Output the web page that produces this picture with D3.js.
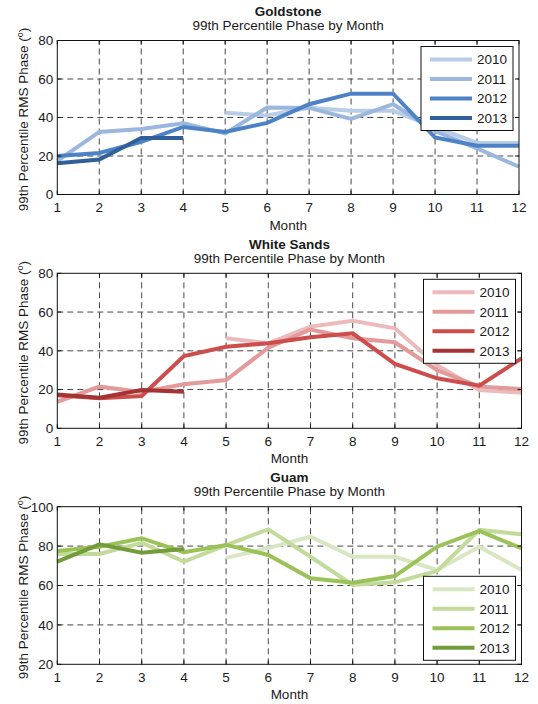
<!DOCTYPE html>
<html>
<head>
<meta charset="utf-8">
<script src="https://cdn.jsdelivr.net/npm/d3@7"></script>
<style>
  html, body { margin: 0; padding: 0; background: #fff; }
  svg { display: block; font-family: "Liberation Sans", Arial, Helvetica, sans-serif; }
</style>
</head>
<body>
<svg id="chart" width="538" height="704"></svg>
<script>
// Months on the x axis
const months = [1, 2, 3, 4, 5, 6, 7, 8, 9, 10, 11, 12];
const years = ["2010", "2011", "2012", "2013"];

// Goldstone, 99th percentile RMS phase (degrees) per month
const goldstone2010 = [null, null, null, null, 42.5, 41, 45, 43.5, 43.5, 35, 26.8, 26.8];
const goldstone2011 = [17.5, 32.5, 34, 37, 31.7, 45.2, 45, 39.3, 46.9, 33, 24, 14.4];
const goldstone2012 = [20, 21.6, 27.3, 35.1, 32.5, 37.2, 46.9, 52.4, 52.4, 29.6, 25.3, 25.3];
const goldstone2013 = [16.2, 18.2, 29.4, 29.4, null, null, null, null, null, null, null, null];

// White Sands
const whiteSands2010 = [null, null, null, null, 46.5, 43.9, 52.5, 55.5, 51.6, 32.5, 19.8, 18.4];
const whiteSands2011 = [13.7, 21.5, 18.8, 22.7, 24.9, 41.6, 51, 46.5, 44.4, 30, 21.5, 20.3];
const whiteSands2012 = [17, 15.5, 16.7, 37.3, 42.1, 43.9, 47, 49, 33.2, 25.8, 22, 36.1];
const whiteSands2013 = [17.5, 15.8, 19.8, 18.9, null, null, null, null, null, null, null, null];

// Guam
const guam2010 = [null, null, null, null, 74, 79, 84.8, 74.6, 74.6, 67.9, 79.7, 67.9];
const guam2011 = [76, 76, 81.7, 72.1, 80.5, 88.5, 74.6, 60.3, 61.6, 67.4, 88.2, 86];
const guam2012 = [77.5, 79.7, 84, 76.9, 80.6, 75.5, 63.7, 61.4, 64.8, 79.7, 87.7, 78.9];
const guam2013 = [72.1, 80.9, 76.6, 78.5, null, null, null, null, null, null, null, null];

// Y tick values per station
const ticks0to80 = [0, 20, 40, 60, 80];
const ticks20to100 = [20, 40, 60, 80, 100];

const colorsBlue = ["#b9cde7", "#9bb7de", "#4d83c6", "#2f6099"];
const colorsRed = ["#ecbaba", "#e29a9a", "#cd4c4c", "#a43434"];
const colorsGreen = ["#d8e7c2", "#c2db9a", "#9ac256", "#739c3b"];

const panels = [
  { title: "Goldstone", series: [goldstone2010, goldstone2011, goldstone2012, goldstone2013],
    colors: colorsBlue, yDomain: [0, 80], yTicks: ticks0to80,
    left: 57.3, right: 519, top: 40.5, bottom: 194.5, legendPos: "top" },
  { title: "White Sands", series: [whiteSands2010, whiteSands2011, whiteSands2012, whiteSands2013],
    colors: colorsRed, yDomain: [0, 80], yTicks: ticks0to80,
    left: 57.3, right: 521.5, top: 273.3, bottom: 428.3, legendPos: "top" },
  { title: "Guam", series: [guam2010, guam2011, guam2012, guam2013],
    colors: colorsGreen, yDomain: [20, 100], yTicks: ticks20to100,
    left: 57.3, right: 521.5, top: 506.7, bottom: 664.3, legendPos: "bottom" }
];

const svg = d3.select("#chart");
const FS = 13.5;
const textColor = "#1a1a1a";

panels.forEach(p => {
  const g = svg.append("g");
  const x = d3.scaleLinear().domain([1, 12]).range([p.left, p.right]);
  const y = d3.scaleLinear().domain(p.yDomain).range([p.bottom, p.top]);
  const cx = (p.left + p.right) / 2;

  // Titles
  g.append("text").attr("x", cx).attr("y", p.top - 24.5)
    .attr("text-anchor", "middle").attr("font-weight", "bold")
    .attr("font-size", FS).attr("fill", textColor).text(p.title);
  g.append("text").attr("x", cx).attr("y", p.top - 10.5)
    .attr("text-anchor", "middle")
    .attr("font-size", FS).attr("fill", textColor).text("99th Percentile Phase by Month");

  // Dashed grid
  const grid = g.append("g").attr("stroke", "#333").attr("stroke-width", 0.9)
    .attr("stroke-dasharray", "6,4").attr("fill", "none");
  months.slice(1, -1).forEach(m => {
    grid.append("line").attr("x1", x(m)).attr("x2", x(m))
      .attr("y1", p.bottom).attr("y2", p.top);
  });
  p.yTicks.slice(1, -1).forEach(v => {
    grid.append("line").attr("x1", p.left).attr("x2", p.right)
      .attr("y1", y(v)).attr("y2", y(v));
  });

  // Series lines
  const line = d3.line()
    .defined(d => d.v !== null)
    .x(d => x(d.m))
    .y(d => y(d.v));
  p.series.forEach((s, i) => {
    const pts = months.map((m, j) => ({ m: m, v: s[j] }));
    g.append("path").datum(pts)
      .attr("d", line)
      .attr("fill", "none")
      .attr("stroke", p.colors[i])
      .attr("stroke-width", 4)
      .attr("stroke-linejoin", "miter");
  });

  // Axes box and inward ticks
  g.append("rect").attr("x", p.left).attr("y", p.top)
    .attr("width", p.right - p.left).attr("height", p.bottom - p.top)
    .attr("fill", "none").attr("stroke", "#111").attr("stroke-width", 1);
  const tk = g.append("g").attr("stroke", "#111").attr("stroke-width", 1);
  months.forEach(m => {
    tk.append("line").attr("x1", x(m)).attr("x2", x(m)).attr("y1", p.bottom).attr("y2", p.bottom - 4);
    tk.append("line").attr("x1", x(m)).attr("x2", x(m)).attr("y1", p.top).attr("y2", p.top + 4);
  });
  p.yTicks.forEach(v => {
    tk.append("line").attr("x1", p.left).attr("x2", p.left + 4).attr("y1", y(v)).attr("y2", y(v));
    tk.append("line").attr("x1", p.right).attr("x2", p.right - 4).attr("y1", y(v)).attr("y2", y(v));
  });

  // Tick labels
  months.forEach(m => {
    g.append("text").attr("x", x(m)).attr("y", p.bottom + 17.5)
      .attr("text-anchor", "middle").attr("font-size", FS).attr("fill", textColor).text(m);
  });
  p.yTicks.forEach(v => {
    g.append("text").attr("x", p.left - 4).attr("y", y(v) + 4.8)
      .attr("text-anchor", "end").attr("font-size", FS).attr("fill", textColor).text(v);
  });

  // Axis titles
  g.append("text").attr("x", cx).attr("y", p.bottom + 35)
    .attr("text-anchor", "middle").attr("font-size", FS).attr("fill", textColor).text("Month");
  const yl = g.append("text")
    .attr("transform", `translate(28,${(p.top + p.bottom) / 2 + 2}) rotate(-90)`)
    .attr("text-anchor", "middle").attr("font-size", FS).attr("fill", textColor);
  yl.append("tspan").text("99th Percentile RMS Phase (");
  yl.append("tspan").attr("font-size", 9).attr("dy", -5).text("o");
  yl.append("tspan").attr("dy", 5).text(")");

  // Legend
  const lw = 92, lh = 84;
  const lx = p.right - 6 - lw;
  const ly = p.legendPos === "top" ? p.top + 6 : p.bottom - 4 - lh;
  const lg = g.append("g");
  lg.append("rect").attr("x", lx).attr("y", ly).attr("width", lw).attr("height", lh)
    .attr("fill", "#fff").attr("stroke", "#111").attr("stroke-width", 1);
  years.forEach((yr, i) => {
    const ry = ly + 13 + i * 19.5;
    lg.append("line").attr("x1", lx + 9).attr("x2", lx + 51)
      .attr("y1", ry).attr("y2", ry)
      .attr("stroke", p.colors[i]).attr("stroke-width", 4);
    lg.append("text").attr("x", lx + 56).attr("y", ry + 4.8)
      .attr("font-size", FS).attr("fill", textColor).text(yr);
  });
});
</script>
</body>
</html>
